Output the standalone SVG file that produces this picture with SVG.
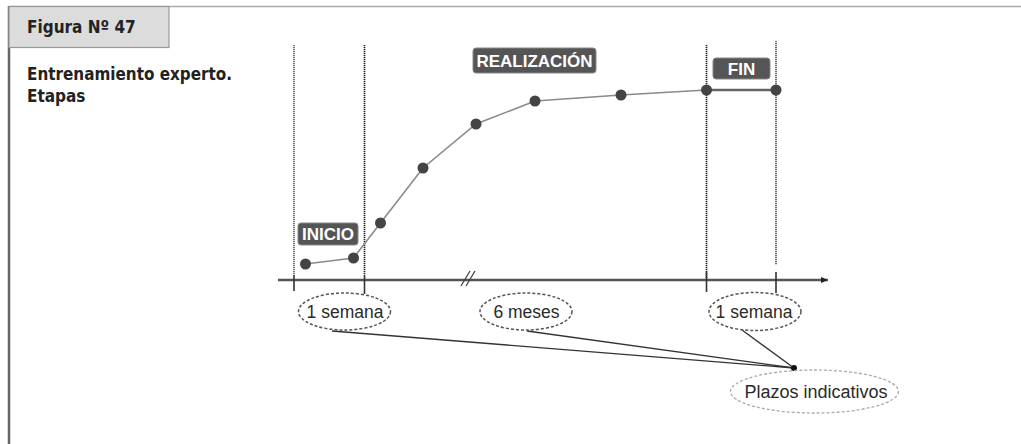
<svg xmlns="http://www.w3.org/2000/svg" width="1021" height="444" viewBox="0 0 1021 444">
<style>
.hdr{font-family:"DejaVu Sans Condensed","DejaVu Sans",sans-serif;font-stretch:condensed;font-weight:bold;font-size:17px;fill:#222}
.tag{fill:#555;stroke:#888;stroke-width:1}
.tagt{font-family:"Liberation Sans",Arial,sans-serif;font-weight:bold;font-size:17px;fill:#fff;text-anchor:middle}
.ell{fill:none;stroke:#555;stroke-width:1.5;stroke-dasharray:3 2}
.ell2{fill:none;stroke:#aaa;stroke-width:1.3;stroke-dasharray:3 2}
.et{font-family:"Liberation Sans",Arial,sans-serif;font-size:17.5px;fill:#2a2a2a;text-anchor:middle}
.dot{fill:#444}
.vd{stroke-width:1.7;stroke-dasharray:1.2 0.8}
.tick{stroke:#333;stroke-width:1.6}
.con{stroke:#333;stroke-width:1.3;fill:none}
</style>
<defs>
<marker id="arr" markerWidth="8" markerHeight="8" refX="7" refY="4" orient="auto" markerUnits="userSpaceOnUse">
<path d="M0,1 L7,4 L0,7 Z" fill="#222"/>
</marker>
</defs>
<rect width="1021" height="444" fill="#fff"/>
<g id="frame">
<line x1="9" y1="6.5" x2="1021" y2="6.5" stroke="#aaa" stroke-width="1.5"/>
<line x1="9" y1="6" x2="9" y2="444" stroke="#666" stroke-width="2.5"/>
</g>
<g id="header">
<rect x="9" y="6.5" width="160" height="41" fill="#dcdcdc" stroke="#999" stroke-width="1.2"/>
<text class="hdr" x="27" y="33">Figura Nº 47</text>
</g>
<g id="title">
<text class="hdr" x="27" y="80" textLength="205" lengthAdjust="spacingAndGlyphs">Entrenamiento experto.</text>
<text class="hdr" x="27" y="102">Etapas</text>
</g>
<g id="guides">
<line class="vd" x1="294" y1="45" x2="294" y2="275" stroke="#666"/>
<line class="vd" x1="364.5" y1="45" x2="364.5" y2="275" stroke="#222"/>
<line class="vd" x1="706.5" y1="45" x2="706.5" y2="278" stroke="#222"/>
<line class="vd" x1="776" y1="41" x2="776" y2="265" stroke="#555"/>
</g>
<g id="axis">
<line x1="278" y1="280" x2="828" y2="280" stroke="#555" stroke-width="2.4" marker-end="url(#arr)"/>
<line class="tick" x1="294" y1="275" x2="294" y2="291"/>
<line class="tick" x1="364.5" y1="275" x2="364.5" y2="294"/>
<line class="tick" x1="706.5" y1="272" x2="706.5" y2="292"/>
<line class="tick" x1="776" y1="272" x2="776" y2="293" stroke="#555"/>
<line x1="461" y1="286" x2="470" y2="271" stroke="#444" stroke-width="1.3"/>
<line x1="466" y1="286" x2="475" y2="271" stroke="#444" stroke-width="1.3"/>
</g>
<g id="curve">
<polyline points="305.5,264 353.5,258 380.5,223 423,168 476,124 535,101 621,95 706.5,90" fill="none" stroke="#8a8a8a" stroke-width="1.6"/>
<line x1="706.5" y1="90" x2="776" y2="90" stroke="#666" stroke-width="2.6"/>
<circle class="dot" cx="305.5" cy="264" r="5.5"/>
<circle class="dot" cx="353.5" cy="258" r="5.5"/>
<circle class="dot" cx="380.5" cy="223" r="5.5"/>
<circle class="dot" cx="423" cy="168" r="5.5"/>
<circle class="dot" cx="476" cy="124" r="5.5"/>
<circle class="dot" cx="535" cy="101" r="5.5"/>
<circle class="dot" cx="621" cy="95" r="5.5"/>
<circle class="dot" cx="706.5" cy="90" r="5.5"/>
<circle class="dot" cx="776" cy="90" r="5.5"/>
</g>
<g id="inicio">
<rect class="tag" x="298" y="223" width="60" height="22" rx="3"/>
<text class="tagt" x="328" y="240">INICIO</text>
</g>
<g id="realizacion">
<rect class="tag" x="473" y="48" width="123" height="25" rx="3"/>
<text class="tagt" x="534.5" y="67">REALIZACIÓN</text>
</g>
<g id="fin">
<rect class="tag" x="713" y="58" width="57" height="21" rx="3"/>
<text class="tagt" x="741.5" y="75">FIN</text>
</g>
<g id="connectors">
<line class="con" x1="332" y1="331" x2="794" y2="368"/>
<line class="con" x1="527" y1="331" x2="794" y2="368"/>
<line class="con" x1="742" y1="330" x2="794" y2="368"/>
<circle cx="794" cy="368" r="3" fill="#111"/>
</g>
<g id="semana1">
<ellipse class="ell" cx="344.5" cy="311.5" rx="46" ry="18.5"/>
<text class="et" x="345" y="317.5">1 semana</text>
</g>
<g id="meses6">
<ellipse class="ell" cx="526" cy="311.5" rx="46" ry="18.5"/>
<text class="et" x="526.5" y="317.5">6 meses</text>
</g>
<g id="semana2">
<ellipse class="ell" cx="755" cy="311.5" rx="46" ry="19"/>
<text class="et" x="754" y="317.5">1 semana</text>
</g>
<g id="plazos">
<ellipse class="ell2" cx="814.5" cy="391.5" rx="84" ry="21.5"/>
<text class="et" x="816" y="398" style="font-size:18px">Plazos indicativos</text>
</g>
</svg>
